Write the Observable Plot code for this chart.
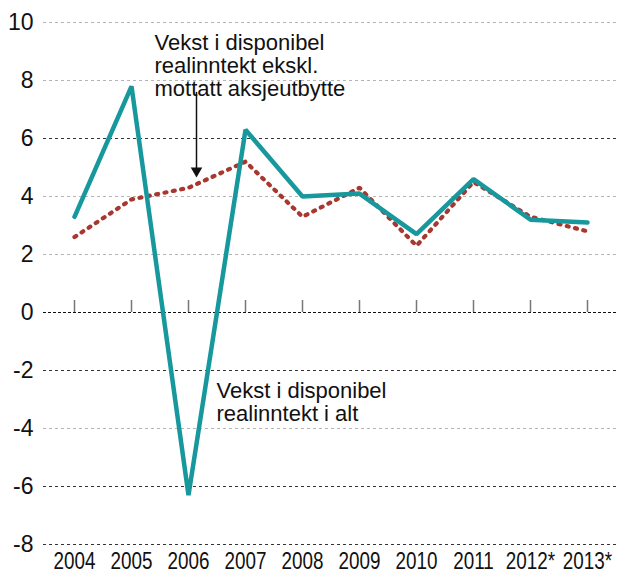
<!DOCTYPE html>
<html>
<head>
<meta charset="utf-8">
<script src="https://cdn.jsdelivr.net/npm/d3@7"></script>
<script src="https://cdn.jsdelivr.net/npm/@observablehq/plot@0.6"></script>
<style>
  body { margin: 0; background: #fff; }
  #chart svg { display: block; }
</style>
</head>
<body>
<div id="chart"></div>
<script>
const years = ["2004","2005","2006","2007","2008","2009","2010","2011","2012*","2013*"];
const totalGrowth = [3.3, 7.8, -6.3, 6.3, 4.0, 4.1, 2.7, 4.6, 3.2, 3.1];
const exclDividend = [2.6, 3.9, 4.3, 5.2, 3.3, 4.3, 2.3, 4.5, 3.3, 2.8];
const yTicks = [10, 8, 6, 4, 2, 0, -2, -4, -6, -8];
const gridLight = [10, 8, 4, 2, -4];
const gridDark = [6, -2, -6, -8];
const zeroLine = [0];
const noteExcl = {label: "Vekst i disponibel\nrealinntekt ekskl.\nmottatt aksjeutbytte", year: "2005", value: 9.6};
const noteTotal = {label: "Vekst i disponibel\nrealinntekt i alt", year: "2006", value: -2.4};
const arrowNote = {year: "2006", from: 7.4, to: 4.75};

const total = years.map((y, i) => ({year: y, value: totalGrowth[i]}));
const excl = years.map((y, i) => ({year: y, value: exclDividend[i]}));

const chart = Plot.plot({
  width: 618,
  height: 574,
  marginTop: 22,
  marginBottom: 30,
  marginLeft: 43,
  marginRight: 0,
  style: {fontFamily: "'Liberation Sans', Arial, sans-serif", fontSize: "22px", color: "#111", background: "#fff"},
  x: {type: "point", domain: years, padding: 0.5},
  y: {domain: [-8, 10]},
  marks: [
    Plot.ruleY(gridLight, {stroke: "#b5b5b5", strokeWidth: 1, strokeDasharray: "3 3"}),
    Plot.ruleY(gridDark, {stroke: "#333", strokeWidth: 1, strokeDasharray: "3 3"}),
    Plot.ruleY(zeroLine, {stroke: "#111", strokeWidth: 1, strokeDasharray: "3 2"}),
    Plot.ruleX(years, {x: d => d, y1: 0, y2: 0, insetTop: -12, stroke: "#777", strokeWidth: 1.5}),
    Plot.axisY({ticks: yTicks, tickSize: 0, tickPadding: 10, label: null, fontSize: 23, tickFormat: d => String(d)}),
    Plot.axisX({tickSize: 0, tickPadding: 8, label: null, fontSize: 23}),
    Plot.ruleX([0], {frameAnchor: "left", stroke: "#888", strokeWidth: 2}),
    Plot.line(excl, {x: "year", y: "value", stroke: "#a8372f", strokeWidth: 4.2, strokeDasharray: "2 6.5", strokeLinecap: "round", strokeLinejoin: "round"}),
    Plot.line(total, {x: "year", y: "value", stroke: "#16989d", strokeWidth: 4.5, strokeLinejoin: "miter"}),
    Plot.link([arrowNote], {x1: "year", x2: "year", y1: "from", y2: "to", dx: 8, dy: -6, stroke: "#111", strokeWidth: 1.5}),
    Plot.dot([arrowNote], {x: "year", y: "to", dx: 8, dy: -4, symbol: "triangle2", rotate: 180, r: 5.5, fill: "#111", stroke: "none"}),
    Plot.text([noteExcl], {x: "year", y: "value", text: "label", textAnchor: "start", lineAnchor: "top", dx: 23, lineHeight: 1.04, fontSize: 22, fill: "#111"}),
    Plot.text([noteTotal], {x: "year", y: "value", text: "label", textAnchor: "start", lineAnchor: "top", dx: 28, lineHeight: 1.04, fontSize: 22, fill: "#111"})
  ]
});
// condense the x tick labels horizontally, like the reference's narrow typeface
d3.select(chart).selectAll('g[aria-label="x-axis tick label"] text').each(function() {
  const t = this.getAttribute("transform") || "";
  this.setAttribute("transform", t + " scale(0.82,1)");
});
document.getElementById("chart").appendChild(chart);
</script>
</body>
</html>
